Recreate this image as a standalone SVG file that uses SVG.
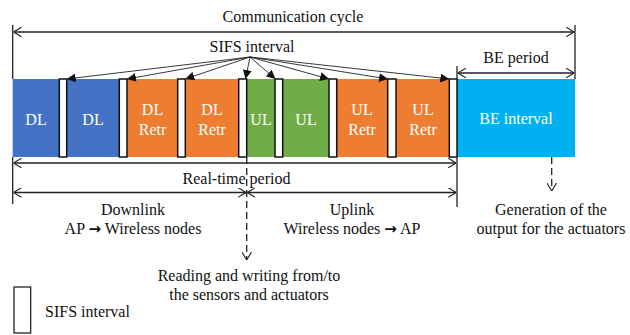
<svg xmlns="http://www.w3.org/2000/svg" width="630" height="335" viewBox="0 0 630 335">
  <defs>
    <style>
      text { font-family: "Liberation Serif", "Times New Roman", serif; font-size: 16px; fill: #111; }
      .in { fill: #fff; text-anchor: middle; }
      .c { text-anchor: middle; }
      .arr { font-family: "DejaVu Sans", sans-serif; font-weight: bold; font-size: 15px; }
      .dl { fill: #4472C4; }
      .or { fill: #ED7D31; }
      .ul { fill: #70AD47; }
      .be { fill: #00B0F0; }
      .sifs { fill: #fff; stroke: #111; stroke-width: 1.5; }
      .dim { stroke: #222; stroke-width: 1.3; fill: none; }
      .fan { stroke: #222; stroke-width: 0.9; fill: none; marker-end: url(#tri); }
      .dash { stroke: #222; stroke-width: 1.3; fill: none; stroke-dasharray: 7 4; }
    </style>
    <marker id="tri" viewBox="0 0 10 10" refX="10" refY="5" markerWidth="9" markerHeight="9" markerUnits="userSpaceOnUse" orient="auto">
      <path d="M0,0 L10,5 L0,10 Z" fill="#111"/>
    </marker>
    <marker id="open" viewBox="0 0 10 12" refX="10" refY="6" markerWidth="8" markerHeight="10" markerUnits="userSpaceOnUse" orient="auto-start-reverse">
      <path d="M0,0 L10,6 L0,12" fill="none" stroke="#222" stroke-width="1.4"/>
    </marker>
  </defs>

  <!-- frame timeline -->
  <g id="blocks">
    <g id="dl1"><rect class="dl" x="12.7" y="79" width="46.6" height="78"/><text class="in" x="36" y="124.5">DL</text></g>
    <g id="dl2"><rect class="dl" x="66.7" y="79" width="52.6" height="78"/><text class="in" x="93" y="124.5">DL</text></g>
    <g id="dlr1"><rect class="or" x="127" y="79" width="50.7" height="78"/><text class="in" x="152.5" y="115">DL</text><text class="in" x="152.5" y="135">Retr</text></g>
    <g id="dlr2"><rect class="or" x="185.3" y="79" width="53.4" height="78"/><text class="in" x="212" y="115">DL</text><text class="in" x="212" y="135">Retr</text></g>
    <g id="ul1"><rect class="ul" x="246.7" y="79" width="28.3" height="78"/><text class="in" x="261" y="124.5">UL</text></g>
    <g id="ul2"><rect class="ul" x="282.7" y="79" width="46.3" height="78"/><text class="in" x="306" y="124.5">UL</text></g>
    <g id="ulr1"><rect class="or" x="336.7" y="79" width="51" height="78"/><text class="in" x="362" y="115">UL</text><text class="in" x="362" y="135">Retr</text></g>
    <g id="ulr2"><rect class="or" x="396" y="79" width="53.3" height="78"/><text class="in" x="423" y="115">UL</text><text class="in" x="423" y="135">Retr</text></g>
    <g id="be"><rect class="be" x="457" y="79" width="118" height="78"/><text class="in" x="516" y="124">BE interval</text></g>
    <g id="sifs">
      <rect class="sifs" x="59.3" y="79" width="7.4" height="78"/>
      <rect class="sifs" x="119.3" y="79" width="7.7" height="78"/>
      <rect class="sifs" x="177.7" y="79" width="7.6" height="78"/>
      <rect class="sifs" x="238.7" y="79" width="8" height="78"/>
      <rect class="sifs" x="275" y="79" width="7.7" height="78"/>
      <rect class="sifs" x="329" y="79" width="7.7" height="78"/>
      <rect class="sifs" x="387.7" y="79" width="8.3" height="78"/>
      <rect class="sifs" x="449.3" y="79" width="7.7" height="78"/>
    </g>
  </g>

  <!-- dimension lines, pointers and extension lines -->
  <g id="connectors">
    <line class="dim" x1="12.7" y1="25" x2="12.7" y2="79"/>
    <line class="dim" x1="12.7" y1="157" x2="12.7" y2="204"/>
    <line class="dim" x1="575" y1="25" x2="575" y2="79"/>
    <line class="dim" x1="457" y1="66" x2="457" y2="79"/>
    <line class="dim" x1="457" y1="157" x2="457" y2="207"/>

    <line class="dim" x1="13.5" y1="32" x2="574.2" y2="32" marker-start="url(#open)" marker-end="url(#open)"/>
    <line class="dim" x1="457.8" y1="73" x2="574.2" y2="73" marker-start="url(#open)" marker-end="url(#open)"/>
    <line class="dim" x1="13.5" y1="163" x2="456.2" y2="163" marker-start="url(#open)" marker-end="url(#open)"/>
    <line class="dim" x1="13.5" y1="192.5" x2="246" y2="192.5" marker-start="url(#open)" marker-end="url(#open)"/>
    <line class="dim" x1="247.4" y1="192.5" x2="456.2" y2="192.5" marker-start="url(#open)" marker-end="url(#open)"/>

    <line class="dash" x1="246.7" y1="157" x2="246.7" y2="260" marker-end="url(#open)"/>
    <line class="dash" x1="551.7" y1="157" x2="551.7" y2="191" marker-end="url(#open)"/>

    <line class="fan" x1="250" y1="57" x2="66.7" y2="79"/>
    <line class="fan" x1="250" y1="57" x2="127" y2="79"/>
    <line class="fan" x1="250" y1="57" x2="185.3" y2="79"/>
    <line class="fan" x1="250" y1="57" x2="245.5" y2="79"/>
    <line class="fan" x1="250" y1="57" x2="275.5" y2="79"/>
    <line class="fan" x1="250" y1="57" x2="329" y2="79"/>
    <line class="fan" x1="250" y1="57" x2="388" y2="79"/>
    <line class="fan" x1="250" y1="57" x2="449.3" y2="79"/>
  </g>

  <!-- labels -->
  <g id="labels">
    <text class="c" x="293" y="22">Communication cycle</text>
    <text class="c" x="252" y="52">SIFS interval</text>
    <text class="c" x="516" y="63">BE period</text>
    <text class="c" x="236.5" y="184">Real-time period</text>
    <text class="c" x="133" y="215">Downlink</text>
    <text class="c" x="133" y="234">AP <tspan class="arr">→</tspan> Wireless nodes</text>
    <text class="c" x="352" y="215">Uplink</text>
    <text class="c" x="352" y="234">Wireless nodes <tspan class="arr">→</tspan> AP</text>
    <text class="c" x="551" y="215">Generation of the</text>
    <text class="c" x="551" y="234">output for the actuators</text>
    <text class="c" x="249" y="280.5">Reading and writing from/to</text>
    <text class="c" x="249" y="300">the sensors and actuators</text>
  </g>

  <g id="legend">
    <rect x="14" y="287" width="16.7" height="46" fill="#fff" stroke="#111" stroke-width="1.2"/>
    <text x="45" y="317">SIFS interval</text>
  </g>
</svg>
